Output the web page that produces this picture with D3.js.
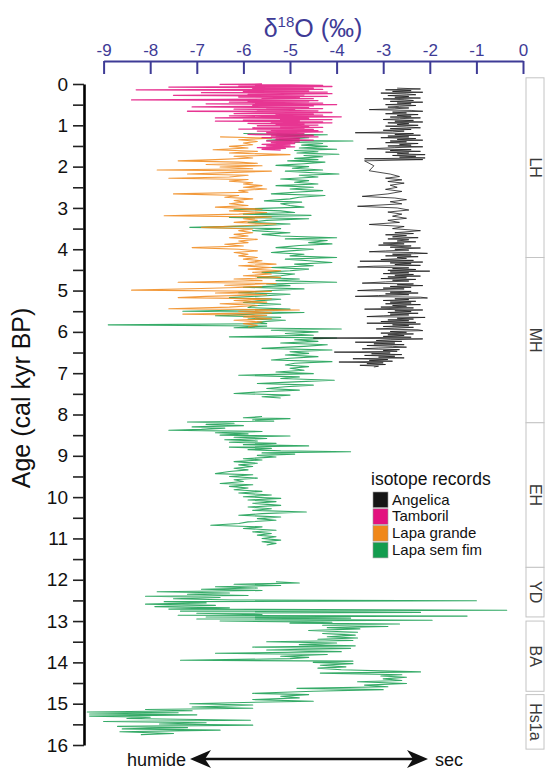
<!DOCTYPE html>
<html>
<head>
<meta charset="utf-8">
<script src="https://cdn.jsdelivr.net/npm/d3@7"></script>
<style>
  html, body { margin: 0; padding: 0; background: #fff; }
  svg { display: block; font-family: "Liberation Sans", Arial, sans-serif; }
</style>
</head>
<body>
<svg id="chart" width="545" height="772"></svg>
<script>
// ---- records: [age (cal kyr BP), d18O (permil)] ----
const angelica = [
  [0.10,-2.70],[0.12,-2.20],[0.14,-2.95],[0.16,-2.40],[0.18,-2.80],[0.20,-2.15],[0.22,-3.05],[0.24,-2.50],
  [0.26,-2.30],[0.28,-2.90],[0.30,-2.45],[0.32,-2.75],[0.34,-2.20],[0.36,-3.00],[0.38,-2.55],[0.40,-2.35],
  [0.42,-2.85],[0.44,-2.15],[0.46,-2.70],[0.48,-2.40],[0.50,-2.95],[0.52,-2.30],[0.54,-2.65],[0.56,-2.90],
  [0.58,-2.45],[0.60,-2.75],[0.62,-3.30],[0.64,-2.40],[0.66,-2.15],[0.68,-2.80],[0.70,-2.50],[0.72,-2.95],
  [0.74,-2.25],[0.76,-2.70],[0.78,-2.40],[0.80,-2.85],[0.82,-2.20],[0.84,-2.65],[0.86,-3.00],[0.88,-2.35],
  [0.90,-2.75],[0.92,-2.15],[0.94,-2.90],[0.96,-2.45],[0.98,-2.70],[1.00,-2.25],[1.02,-2.95],[1.04,-2.50],
  [1.06,-2.20],[1.08,-2.85],[1.10,-2.40],[1.12,-3.00],[1.14,-2.55],[1.16,-2.80],[1.18,-3.60],[1.20,-2.35],
  [1.22,-2.75],[1.24,-2.20],[1.26,-2.90],[1.28,-2.45],[1.30,-3.05],[1.32,-2.30],[1.34,-2.70],[1.36,-2.15],
  [1.38,-2.85],[1.40,-2.50],[1.42,-2.95],[1.44,-2.25],[1.46,-2.65],[1.48,-2.40],[1.50,-2.90],[1.52,-2.15],
  [1.54,-2.75],[1.57,-3.35],[1.59,-2.40],[1.61,-2.85],[1.63,-2.20],[1.65,-2.95],[1.67,-2.45],[1.69,-2.70],
  [1.71,-2.10],[1.73,-2.80],[1.75,-2.30],[1.77,-2.65],[1.79,-2.10],[1.81,-3.40],[1.83,-2.15],
  [1.86,-3.40],[1.98,-3.20],[2.10,-3.30],[2.18,-2.85],[2.24,-2.65],[2.28,-2.95],[2.32,-2.60],[2.36,-2.90],
  [2.40,-2.55],[2.45,-2.85],[2.50,-2.70],[2.55,-2.95],[2.60,-2.60],[2.66,-2.90],[2.72,-3.45],[2.76,-2.75],
  [2.80,-2.50],[2.85,-2.85],[2.90,-2.60],[2.96,-3.55],[3.00,-2.70],[3.05,-2.45],[3.10,-2.90],[3.15,-2.60],
  [3.20,-2.80],[3.25,-2.50],[3.30,-2.90],[3.35,-2.65],[3.40,-3.30],[3.45,-2.55],[3.50,-2.80],[3.55,-2.20],
  [3.60,-2.75],[3.62,-2.35],[3.65,-2.95],[3.67,-2.50],[3.70,-2.80],[3.72,-2.25],[3.75,-2.90],[3.77,-2.45],
  [3.80,-2.70],[3.82,-2.30],[3.85,-3.00],[3.87,-2.55],[3.90,-3.10],[3.92,-2.40],[3.95,-2.85],[3.97,-2.20],
  [4.00,-2.75],[4.02,-2.45],[4.04,-2.95],[4.06,-3.30],[4.08,-2.35],[4.10,-2.05],[4.12,-2.80],[4.14,-2.40],
  [4.16,-2.95],[4.18,-2.25],[4.20,-2.70],[4.22,-2.50],[4.25,-3.05],[4.27,-2.35],[4.29,-3.50],[4.31,-2.15],
  [4.33,-2.85],[4.35,-2.40],[4.37,-2.75],[4.39,-2.20],[4.41,-3.20],[4.43,-3.55],[4.45,-2.45],[4.47,-2.80],
  [4.49,-2.30],[4.51,-2.90],[4.53,-2.00],[4.55,-2.85],[4.57,-2.45],[4.59,-3.00],[4.61,-2.35],[4.63,-2.75],
  [4.65,-2.20],[4.67,-2.90],[4.69,-2.50],[4.71,-3.05],[4.73,-2.30],[4.75,-2.80],[4.77,-2.45],[4.79,-2.95],
  [4.82,-3.45],[4.84,-2.35],[4.86,-2.70],[4.88,-2.15],[4.90,-2.85],[4.92,-2.40],[4.94,-3.00],[4.96,-2.55],
  [4.98,-3.20],[5.00,-3.55],[5.02,-2.40],[5.04,-2.85],[5.06,-2.25],[5.08,-2.95],[5.10,-2.45],[5.12,-3.10],
  [5.14,-3.60],[5.16,-2.20],[5.18,-2.05],[5.20,-2.75],[5.22,-2.45],[5.24,-3.00],[5.26,-2.30],[5.28,-2.85],
  [5.30,-2.40],[5.32,-2.95],[5.34,-2.20],[5.36,-2.80],[5.38,-2.50],[5.40,-3.05],[5.42,-2.35],[5.45,-3.40],
  [5.47,-2.15],[5.49,-2.75],[5.51,-2.40],[5.53,-2.90],[5.55,-2.25],[5.57,-2.85],[5.59,-2.45],[5.61,-3.00],
  [5.63,-3.35],[5.65,-2.10],[5.67,-2.70],[5.69,-2.35],[5.71,-2.90],[5.73,-2.45],[5.75,-3.05],[5.77,-2.30],
  [5.79,-3.35],[5.81,-2.20],[5.83,-2.80],[5.85,-2.45],[5.87,-3.00],[5.89,-2.35],[5.91,-2.75],[5.93,-3.15],
  [5.95,-2.25],[5.97,-2.15],[5.99,-2.85],[6.01,-2.50],[6.03,-3.05],[6.05,-2.35],[6.07,-2.90],[6.09,-2.55],
  [6.11,-3.00],[6.13,-2.40],[6.15,-4.50],[6.17,-2.15],[6.19,-2.85],[6.21,-3.15],[6.23,-2.60],[6.25,-3.60],
  [6.27,-2.75],[6.29,-3.20],[6.31,-2.55],[6.33,-3.35],[6.35,-2.80],[6.37,-2.50],[6.39,-3.10],[6.41,-3.45],
  [6.43,-2.65],[6.45,-3.00],[6.47,-2.70],[6.49,-4.05],[6.51,-2.85],[6.53,-3.25],[6.55,-2.60],[6.57,-3.40],
  [6.59,-2.75],[6.61,-3.10],[6.63,-2.55],[6.65,-3.65],[6.67,-2.90],[6.69,-3.30],[6.71,-2.80],[6.73,-3.95],
  [6.75,-3.00],[6.77,-3.35],[6.79,-2.95],[6.81,-3.50],[6.83,-3.10],[6.85,-3.20]
];

const tamboril = [
  [0.00,-5.6],[0.01,-6.5],[0.02,-5.0],[0.035,-4.3],[0.05,-6.1],[0.06,-4.1],[0.075,-7.6],[0.09,-5.2],
  [0.10,-4.5],[0.115,-5.8],[0.13,-4.3],[0.14,-8.3],[0.155,-5.4],[0.17,-4.6],[0.18,-6.0],[0.195,-4.2],
  [0.21,-6.9],[0.22,-5.1],[0.235,-4.1],[0.25,-5.9],[0.26,-4.7],[0.275,-7.5],[0.29,-5.2],[0.30,-4.2],
  [0.315,-6.1],[0.33,-4.8],[0.34,-5.6],[0.355,-4.5],[0.37,-6.4],[0.385,-8.4],[0.40,-4.4],[0.41,-5.9],
  [0.425,-4.6],[0.44,-6.3],[0.45,-5.0],[0.465,-4.3],[0.48,-6.8],[0.49,-5.2],[0.50,-4.0],[0.515,-5.8],
  [0.53,-4.5],[0.54,-6.0],[0.555,-7.1],[0.57,-4.6],[0.58,-5.5],[0.595,-4.3],[0.61,-6.2],[0.62,-4.9],
  [0.635,-5.7],[0.65,-4.4],[0.66,-7.2],[0.675,-5.0],[0.69,-4.1],[0.70,-5.5],[0.715,-6.2],[0.73,-4.5],
  [0.74,-5.3],[0.755,-4.3],[0.77,-6.3],[0.78,-5.1],[0.795,-3.9],[0.81,-5.6],[0.82,-6.6],[0.835,-4.6],
  [0.85,-5.2],[0.86,-4.1],[0.875,-6.0],[0.89,-4.8],[0.90,-6.6],[0.915,-4.3],[0.93,-5.4],[0.94,-4.1],
  [0.955,-5.9],[0.97,-4.7],[0.98,-5.3],[0.995,-4.4],[1.01,-5.7],[1.02,-4.6],[1.035,-5.2],[1.05,-4.3],
  [1.06,-5.8],[1.075,-4.7],[1.09,-6.1],[1.10,-4.5],[1.115,-5.4],[1.13,-4.4],[1.14,-5.7],[1.16,-4.3],
  [1.18,-5.5],[1.20,-4.7],[1.22,-5.9],[1.24,-4.5],[1.26,-5.4],[1.28,-4.4],[1.30,-5.6],[1.32,-4.8],
  [1.34,-5.3],[1.36,-4.5],[1.38,-5.5],[1.40,-4.8],[1.42,-5.4],[1.44,-4.9],[1.46,-5.6],[1.48,-5.0],
  [1.50,-5.5],[1.52,-4.9],[1.54,-5.7],[1.56,-5.1],[1.58,-5.6],[1.60,-5.2]
];

const lapaGrande = [
  [1.28,-6.5],[1.31,-5.4],[1.35,-6.1],[1.39,-5.7],[1.43,-6.0],[1.47,-5.8],[1.51,-6.3],[1.55,-5.9],
  [1.59,-6.65],[1.63,-5.7],[1.67,-6.3],[1.71,-5.0],[1.75,-6.2],[1.79,-5.8],[1.83,-6.6],[1.86,-7.4],
  [1.89,-6.1],[1.92,-5.7],[1.95,-6.8],[1.98,-5.6],[2.01,-6.5],[2.05,-5.8],[2.08,-7.85],[2.11,-5.4],
  [2.14,-6.2],[2.18,-7.2],[2.21,-5.9],[2.25,-6.3],[2.28,-7.6],[2.31,-5.9],[2.35,-6.3],[2.39,-5.8],
  [2.42,-6.0],[2.46,-5.6],[2.50,-6.0],[2.54,-5.5],[2.58,-6.1],[2.62,-5.9],[2.66,-7.5],[2.70,-6.1],
  [2.74,-6.4],[2.78,-5.8],[2.82,-6.2],[2.86,-6.0],[2.90,-6.3],[2.94,-5.9],[2.98,-6.6],[3.03,-5.6],
  [3.07,-6.3],[3.11,-5.5],[3.15,-6.1],[3.19,-7.7],[3.22,-5.4],[3.26,-6.0],[3.30,-5.7],[3.35,-6.2],
  [3.39,-5.3],[3.43,-6.0],[3.47,-6.9],[3.51,-5.8],[3.55,-6.1],[3.60,-5.8],[3.64,-6.2],[3.68,-5.9],
  [3.72,-6.3],[3.76,-5.7],[3.80,-6.1],[3.84,-5.9],[3.88,-6.4],[3.92,-6.0],[3.96,-7.1],[4.00,-6.1],
  [4.04,-5.7],[4.08,-6.2],[4.12,-5.9],[4.16,-6.1],[4.20,-5.7],[4.24,-6.0],[4.28,-5.6],[4.32,-5.9],
  [4.36,-5.3],[4.40,-6.1],[4.44,-5.4],[4.48,-5.9],[4.52,-5.2],[4.56,-5.8],[4.60,-5.4],[4.64,-6.0],
  [4.68,-5.2],[4.72,-6.2],[4.76,-5.6],[4.80,-7.4],[4.83,-5.3],[4.87,-6.4],[4.91,-5.6],[4.95,-6.9],
  [4.99,-8.4],[5.02,-5.4],[5.06,-6.6],[5.10,-5.5],[5.14,-6.8],[5.17,-7.4],[5.20,-5.4],[5.24,-6.2],
  [5.28,-5.5],[5.32,-6.5],[5.36,-5.7],[5.40,-6.3],[5.44,-7.6],[5.47,-4.8],[5.50,-6.1],[5.54,-5.4],
  [5.57,-7.3],[5.60,-5.5],[5.64,-6.0],[5.68,-5.4],[5.72,-6.2],[5.76,-5.6],[5.80,-6.0],[5.84,-5.7],
  [5.88,-5.9]
];

// Lapa sem fim has hiatuses, so it is kept as three sections
const lapaSemFimHolocene = [
  [1.20,-6.0],[1.23,-4.2],[1.26,-5.3],[1.30,-4.6],[1.33,-5.0],[1.36,-5.5],[1.38,-3.65],[1.41,-4.9],
  [1.44,-4.3],[1.48,-4.75],[1.51,-4.2],[1.55,-4.8],[1.58,-4.0],[1.61,-4.9],[1.64,-4.4],[1.67,-4.85],
  [1.70,-3.95],[1.73,-4.7],[1.76,-4.3],[1.80,-4.9],[1.83,-4.4],[1.86,-5.05],[1.89,-4.25],[1.93,-4.7],
  [1.97,-5.3],[2.00,-4.6],[2.04,-4.95],[2.08,-4.3],[2.11,-5.1],[2.15,-4.5],[2.18,-3.95],[2.21,-4.8],
  [2.25,-4.4],[2.30,-5.2],[2.34,-4.6],[2.38,-4.9],[2.42,-4.4],[2.46,-5.3],[2.50,-4.5],[2.54,-5.0],
  [2.58,-4.3],[2.62,-4.9],[2.66,-5.4],[2.70,-4.25],[2.74,-4.8],[2.78,-5.0],[2.83,-5.55],[2.86,-4.75],
  [2.90,-5.2],[2.94,-5.0],[2.98,-4.7],[3.03,-6.2],[3.07,-5.2],[3.11,-4.9],[3.15,-6.0],[3.18,-4.55],
  [3.23,-6.3],[3.26,-4.6],[3.30,-5.5],[3.35,-5.9],[3.39,-5.0],[3.43,-5.6],[3.47,-7.15],[3.50,-5.2],
  [3.55,-5.8],[3.60,-5.0],[3.64,-5.6],[3.68,-5.2],[3.72,-4.0],[3.75,-5.1],[3.79,-4.2],[3.84,-4.6],
  [3.87,-4.1],[3.91,-4.8],[3.96,-5.3],[4.00,-4.5],[4.04,-5.0],[4.08,-5.4],[4.12,-4.7],[4.16,-5.0],
  [4.20,-4.0],[4.24,-5.1],[4.28,-4.6],[4.32,-4.1],[4.36,-4.9],[4.40,-4.5],[4.44,-5.4],[4.48,-4.6],
  [4.52,-5.0],[4.56,-5.6],[4.60,-4.9],[4.64,-5.2],[4.68,-5.7],[4.72,-4.8],[4.76,-5.3],[4.80,-4.0],
  [4.84,-5.5],[4.88,-5.0],[4.92,-6.0],[4.96,-4.7],[5.00,-5.4],[5.05,-6.1],[5.09,-5.0],[5.13,-5.6],
  [5.17,-6.3],[5.21,-5.2],[5.25,-5.7],[5.29,-6.0],[5.33,-5.2],[5.37,-5.8],[5.41,-5.9],[5.45,-5.0],
  [5.50,-7.3],[5.53,-4.7],[5.57,-5.8],[5.61,-6.6],[5.65,-5.2],[5.69,-5.9],[5.72,-5.1],[5.76,-5.7],
  [5.80,-5.5],[5.83,-8.9],[5.86,-5.5],[5.90,-6.2],[5.93,-3.9],[5.96,-5.4],[6.00,-4.4],[6.04,-5.1],
  [6.08,-4.5],[6.12,-6.3],[6.15,-4.0],[6.19,-4.9],[6.23,-4.4],[6.27,-5.2],[6.31,-4.2],[6.35,-4.7],
  [6.40,-5.6],[6.44,-4.1],[6.48,-5.0],[6.52,-4.6],[6.56,-5.1],[6.60,-4.4],[6.64,-5.0],[6.68,-5.4],
  [6.72,-4.1],[6.76,-4.9],[6.80,-5.1],[6.84,-4.6],[6.88,-5.0],[6.93,-4.7],[6.97,-5.3],[7.01,-4.5],
  [7.05,-6.1],[7.09,-4.8],[7.13,-5.2],[7.17,-4.05],[7.21,-4.9],[7.25,-5.7],[7.29,-4.5],[7.33,-5.1],
  [7.37,-5.5],[7.41,-4.8],[7.45,-5.6],[7.49,-6.2],[7.53,-5.0],[7.57,-5.6],[7.60,-5.2]
];

const lapaSemFimEarly = [
  [8.05,-5.6],[8.08,-6.0],[8.10,-5.0],[8.13,-5.8],[8.16,-5.35],[8.18,-7.2],[8.21,-6.2],[8.24,-6.8],
  [8.27,-6.0],[8.30,-7.1],[8.33,-6.4],[8.36,-6.9],[8.38,-7.6],[8.41,-5.6],[8.44,-6.6],[8.47,-5.9],
  [8.50,-6.5],[8.52,-5.0],[8.55,-6.2],[8.58,-5.5],[8.61,-6.4],[8.64,-5.7],[8.67,-6.3],[8.70,-5.3],
  [8.73,-6.0],[8.76,-4.6],[8.79,-6.3],[8.82,-5.4],[8.85,-5.9],[8.88,-5.2],[8.90,-3.7],[8.93,-5.6],
  [8.96,-4.9],[8.99,-5.7],[9.03,-5.3],[9.07,-6.0],[9.10,-5.6],[9.14,-6.2],[9.18,-5.7],[9.22,-6.1],
  [9.26,-5.8],[9.30,-6.2],[9.34,-5.9],[9.38,-6.3],[9.43,-6.6],[9.46,-5.8],[9.50,-6.3],[9.54,-5.7],
  [9.58,-6.2],[9.62,-6.0],[9.67,-6.5],[9.70,-5.8],[9.74,-6.3],[9.78,-5.9],[9.82,-6.2],[9.86,-5.6],
  [9.90,-6.1],[9.95,-5.4],[9.99,-6.0],[10.03,-5.2],[10.07,-5.9],[10.11,-5.3],[10.15,-5.8],[10.20,-5.2],
  [10.24,-5.9],[10.28,-5.4],[10.32,-5.8],[10.36,-4.65],[10.40,-5.6],[10.44,-6.1],[10.48,-5.2],[10.52,-5.7],
  [10.56,-5.3],[10.60,-5.9],[10.64,-6.1],[10.68,-6.7],[10.72,-5.6],[10.76,-6.0],[10.80,-5.3],[10.84,-5.8],
  [10.88,-5.4],[10.92,-5.7],[10.96,-5.3],[11.00,-5.6],[11.04,-5.2],[11.08,-5.6],[11.12,-5.3],[11.16,-5.5]
];

const lapaSemFimGlacial = [
  [12.05,-5.3],[12.08,-4.8],[12.11,-6.2],[12.14,-5.2],[12.17,-6.6],[12.20,-5.7],[12.23,-6.9],[12.26,-5.6],
  [12.29,-7.85],[12.32,-6.3],[12.35,-7.2],[12.38,-5.9],[12.40,-8.1],[12.43,-6.5],[12.46,-7.5],[12.49,-6.2],
  [12.51,-1.0],[12.53,-7.7],[12.56,-6.8],[12.59,-8.1],[12.62,-6.6],[12.65,-7.9],[12.68,-6.3],[12.71,-7.6],
  [12.74,-0.35],[12.76,-7.35],[12.79,-2.2],[12.81,-7.0],[12.84,-5.6],[12.86,-7.4],[12.88,-1.2],[12.90,-6.8],
  [12.93,-3.7],[12.95,-7.0],[12.98,-1.95],[13.00,-6.5],[13.03,-4.1],[13.05,-5.0],[13.07,-2.65],[13.10,-4.3],
  [13.13,-2.9],[13.16,-4.2],[13.19,-3.5],[13.23,-4.6],[13.27,-3.55],[13.30,-4.3],[13.34,-3.6],[13.38,-4.2],
  [13.41,-3.55],[13.44,-4.4],[13.47,-3.65],[13.50,-5.5],[13.53,-4.0],[13.57,-4.8],[13.60,-3.6],[13.63,-5.8],
  [13.66,-3.7],[13.70,-5.5],[13.74,-3.9],[13.78,-6.6],[13.81,-4.2],[13.85,-5.2],[13.88,-4.6],[13.91,-5.0],
  [13.95,-7.35],[13.97,-3.65],[14.00,-4.5],[14.03,-3.65],[14.07,-4.35],[14.11,-3.8],[14.14,-4.4],[14.18,-3.9],
  [14.23,-2.2],[14.26,-4.35],[14.30,-2.6],[14.33,-3.05],[14.36,-2.5],[14.40,-3.0],[14.44,-2.6],[14.47,-3.55],
  [14.51,-2.5],[14.55,-3.4],[14.59,-2.9],[14.63,-4.85],[14.66,-3.0],[14.70,-4.5],[14.75,-5.8],[14.78,-4.6],
  [14.82,-5.2],[14.86,-4.8],[14.90,-5.8],[14.94,-4.5],[14.97,-6.0],[15.00,-7.15],[15.03,-5.8],[15.06,-6.4],
  [15.08,-7.1],[15.11,-5.8],[15.14,-8.1],[15.17,-7.1],[15.20,-9.35],[15.22,-7.4],[15.25,-9.3],[15.27,-7.0],
  [15.30,-9.3],[15.33,-8.0],[15.36,-8.5],[15.40,-5.85],[15.43,-9.0],[15.46,-6.8],[15.49,-7.8],[15.52,-5.8],
  [15.55,-8.7],[15.58,-7.2],[15.61,-8.6],[15.64,-6.5],[15.68,-8.65],[15.72,-7.5],[15.75,-8.2]
];

// climatic periods (kyr BP)
const periodNames = ["LH", "MH", "EH", "YD", "BA", "Hs1a"];
const periodStart = [-0.15, 4.2, 8.2, 11.7, 13.0, 14.78];
const periodEnd   = [4.2, 8.2, 11.7, 12.9, 14.7, 16.1];

const legendNames  = ["Angelica", "Tamboril", "Lapa grande", "Lapa sem fim"];
const legendColors = ["#151515", "#e3127f", "#f0881a", "#139c4e"];

const xTicks = [-9, -8, -7, -6, -5, -4, -3, -2, -1, 0];
const yAllTicks = d3.range(0, 16.01, 0.5);

// ---- drawing ----
const svg = d3.select("#chart");
const axisBlue = "#3e3b96";

const x = d3.scaleLinear().domain([-9, 0]).range([103.6, 523]);
const y = d3.scaleLinear().domain([0, 16]).range([84, 745]);

const line = d3.line().x(d => x(d[1])).y(d => y(d[0]));

// records
const series = [
  { data: lapaSemFimHolocene, color: legendColors[3], w: 1.1 },
  { data: lapaSemFimEarly,    color: legendColors[3], w: 1.1 },
  { data: lapaSemFimGlacial,  color: legendColors[3], w: 1.1 },
  { data: lapaGrande,         color: legendColors[2], w: 1.1 },
  { data: tamboril,           color: legendColors[1], w: 1.3 },
  { data: angelica,           color: legendColors[0], w: 0.9 }
];
svg.append("g").selectAll("path").data(series).join("path")
  .attr("d", d => line(d.data))
  .attr("fill", "none")
  .attr("stroke", d => d.color)
  .attr("stroke-width", d => d.w)
  .attr("stroke-opacity", 0.85)
  .attr("stroke-linejoin", "round");

// top axis (d18O)
const xAxis = svg.append("g").attr("transform", "translate(0,61)")
  .call(d3.axisTop(x).tickValues(xTicks).tickSizeInner(-13).tickSizeOuter(0).tickPadding(5)
    .tickFormat(d => d === 0 ? "0" : "-" + Math.abs(d)));
xAxis.select(".domain").attr("stroke", axisBlue).attr("stroke-width", 2);
xAxis.selectAll(".tick line").attr("stroke", axisBlue).attr("stroke-width", 2);
xAxis.selectAll(".tick text").attr("fill", axisBlue).attr("font-size", 17)
  .attr("font-family", "Liberation Sans, Arial, sans-serif");

const title = svg.append("text").attr("x", 313).attr("y", 37)
  .attr("text-anchor", "middle").attr("fill", axisBlue).attr("font-size", 25);
title.append("tspan").text("δ");
title.append("tspan").attr("font-size", 15).attr("dy", -10).text("18");
title.append("tspan").attr("dy", 10).text("O (‰)");

// left axis (age)
const yAxis = svg.append("g").attr("transform", "translate(84,0)")
  .call(d3.axisLeft(y).tickValues(yAllTicks).tickSizeInner(11).tickSizeOuter(0).tickPadding(5)
    .tickFormat(d => Number.isInteger(d) ? d : ""));
yAxis.select(".domain").attr("stroke", "#000").attr("stroke-width", 2.6);
yAxis.selectAll(".tick line").attr("stroke", "#222").attr("stroke-width", 1.6);
yAxis.selectAll(".tick text").attr("fill", "#111").attr("font-size", 19)
  .attr("font-family", "Liberation Sans, Arial, sans-serif");

svg.append("text")
  .attr("transform", `translate(30,${y(7.6)}) rotate(-90)`)
  .attr("text-anchor", "middle").attr("font-size", 25).attr("fill", "#111")
  .text("Age (cal kyr BP)");

// climatic period boxes
const periods = periodNames.map((n, i) => ({ name: n, a: periodStart[i], b: periodEnd[i] }));
const pg = svg.append("g");
pg.selectAll("rect").data(periods).join("rect")
  .attr("x", 526).attr("width", 18)
  .attr("y", d => y(d.a)).attr("height", d => y(d.b) - y(d.a))
  .attr("fill", "#fff").attr("stroke", "#c4c4c4").attr("stroke-width", 1);
pg.selectAll("text").data(periods).join("text")
  .attr("transform", d => `translate(530,${y((d.a + d.b) / 2)}) rotate(90)`)
  .attr("text-anchor", "middle").attr("font-size", 16).attr("fill", "#3a3a3a")
  .text(d => d.name);

// legend
const lg = svg.append("g");
lg.append("text").attr("x", 371).attr("y", 485).attr("font-size", 17.5).attr("fill", "#111")
  .text("isotope records");
const items = lg.selectAll("g.item").data(legendNames).join("g")
  .attr("transform", (d, i) => `translate(373,${492 + i * 16.8})`);
items.append("rect").attr("width", 15).attr("height", 15.5)
  .attr("fill", (d, i) => legendColors[i]).attr("stroke", "#999").attr("stroke-width", 0.6);
items.append("text").attr("x", 19).attr("y", 12.5).attr("font-size", 15).attr("fill", "#111")
  .text(d => d);

// humid / dry arrow
const ay = 759;
const ag = svg.append("g");
ag.append("line").attr("x1", 200).attr("x2", 418).attr("y1", ay).attr("y2", ay)
  .attr("stroke", "#111").attr("stroke-width", 2.6);
ag.append("path").attr("d", `M190,${ay} L211,${ay - 9} L205,${ay} L211,${ay + 9} Z`).attr("fill", "#111");
ag.append("path").attr("d", `M428,${ay} L407,${ay - 9} L413,${ay} L407,${ay + 9} Z`).attr("fill", "#111");
ag.append("text").attr("x", 186).attr("y", 766).attr("text-anchor", "end").attr("font-size", 18)
  .attr("fill", "#111").text("humide");
ag.append("text").attr("x", 435).attr("y", 766).attr("font-size", 18).attr("fill", "#111").text("sec");
</script>
</body>
</html>
